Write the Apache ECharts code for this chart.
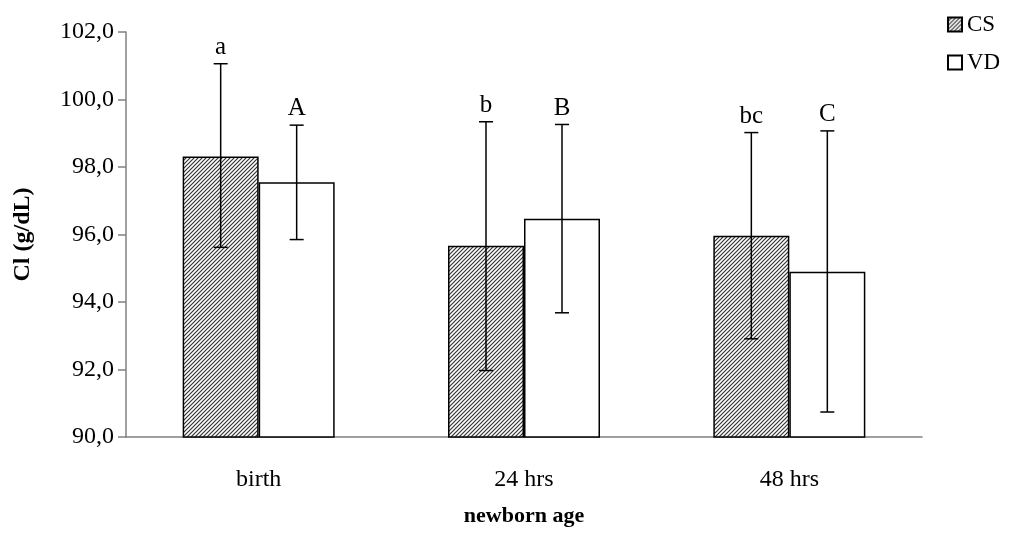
<!DOCTYPE html>
<html>
<head>
<meta charset="utf-8">
<script src="https://cdn.jsdelivr.net/npm/echarts@6/dist/echarts.min.js"></script>
<style>
  html, body { margin: 0; padding: 0; background: #fff; }
  #chart { width: 1012px; height: 537px; }
</style>
</head>
<body>
<div id="chart"></div>
<script>
var categories = ['birth', '24 hrs', '48 hrs']
var csMean = [98.31, 95.67, 95.96]
var csLow = [95.62, 91.97, 92.91]
var csHigh = [101.06, 99.34, 99.02]
var csLetters = ['a', 'b', 'bc']
var vdMean = [97.55, 96.47, 94.90]
var vdLow = [95.85, 93.68, 90.74]
var vdHigh = [99.24, 99.26, 99.07]
var vdLetters = ['A', 'B', 'C']
var yTicks = [90, 92, 94, 96, 98, 100, 102]

var FONT = "'Liberation Serif', 'DejaVu Serif', serif"

// hatch pattern for CS bars
var hatch = document.createElement('canvas')
hatch.width = 4
hatch.height = 4
var hc = hatch.getContext('2d')
hc.fillStyle = '#ffffff'
hc.fillRect(0, 0, 4, 4)
hc.strokeStyle = '#333333'
hc.lineWidth = 1.2
hc.beginPath()
hc.moveTo(-1, 5); hc.lineTo(5, -1)
hc.moveTo(-1, 1); hc.lineTo(1, -1)
hc.moveTo(3, 5); hc.lineTo(5, 3)
hc.stroke()

// error bars + significance letters
function errorSeries(name, low, high, letters, offset) {
  return {
    name: name + '_err',
    type: 'custom',
    z: 10,
    silent: true,
    data: categories.map(function (c, i) { return [i, low[i], high[i]] }),
    renderItem: function (params, api) {
      var lo = api.coord([api.value(0), api.value(1)])
      var hi = api.coord([api.value(0), api.value(2)])
      var x = lo[0] + offset
      var cap = 7
      var ls = { stroke: '#000', lineWidth: 1.5 }
      return {
        type: 'group',
        children: [
          { type: 'line', shape: { x1: x, y1: hi[1], x2: x, y2: lo[1] }, style: ls },
          { type: 'line', shape: { x1: x - cap, y1: hi[1], x2: x + cap, y2: hi[1] }, style: ls },
          { type: 'line', shape: { x1: x - cap, y1: lo[1], x2: x + cap, y2: lo[1] }, style: ls },
          {
            type: 'text',
            style: {
              x: x, y: hi[1] - 4,
              text: letters[params.dataIndex],
              fill: '#000',
              font: '25px ' + FONT,
              textAlign: 'center',
              textVerticalAlign: 'bottom'
            }
          }
        ]
      }
    }
  }
}

var chart = echarts.init(document.getElementById('chart'))
chart.setOption({
  animation: false,
  backgroundColor: '#fff',
  textStyle: { fontFamily: FONT },
  grid: { left: 126, right: 90, top: 32, bottom: 100 },
  legend: {
    orient: 'vertical',
    left: 947,
    top: 13,
    padding: 0,
    itemWidth: 14,
    itemHeight: 14,
    itemGap: 15,
    icon: 'rect',
    data: ['CS', 'VD'],
    textStyle: { fontFamily: FONT, fontSize: 23, color: '#000' }
  },
  xAxis: {
    type: 'category',
    data: categories,
    name: 'newborn age',
    nameLocation: 'middle',
    nameGap: 68,
    nameTextStyle: { fontFamily: FONT, fontSize: 22, fontWeight: 'bold', color: '#000' },
    axisLine: { lineStyle: { color: '#808080', width: 1.5 } },
    axisTick: { show: false },
    axisLabel: { margin: 31, fontFamily: FONT, fontSize: 24, color: '#000' }
  },
  yAxis: {
    type: 'value',
    min: yTicks[0],
    max: yTicks[yTicks.length - 1],
    interval: 2,
    name: 'Cl (g/dL)',
    nameLocation: 'middle',
    nameGap: 91,
    nameTextStyle: { fontFamily: FONT, fontSize: 24, fontWeight: 'bold', color: '#000' },
    axisLine: { show: true, lineStyle: { color: '#808080', width: 1.5 } },
    axisTick: { show: true, length: 8, lineStyle: { color: '#808080', width: 1.5 } },
    splitLine: { show: false },
    axisLabel: {
      margin: 12,
      fontFamily: FONT,
      fontSize: 24,
      color: '#000',
      formatter: function (v) { return v.toFixed(1).replace('.', ',') }
    }
  },
  series: [
    {
      name: 'CS',
      type: 'bar',
      barWidth: 76,
      barGap: '0%',
      data: csMean,
      itemStyle: { color: { image: hatch, repeat: 'repeat' }, borderColor: '#000', borderWidth: 1.5 }
    },
    {
      name: 'VD',
      type: 'bar',
      barWidth: 76,
      barGap: '0%',
      data: vdMean,
      itemStyle: { color: '#fff', borderColor: '#000', borderWidth: 1.5 }
    },
    errorSeries('CS', csLow, csHigh, csLetters, -38),
    errorSeries('VD', vdLow, vdHigh, vdLetters, 38)
  ]
})
</script>
</body>
</html>
